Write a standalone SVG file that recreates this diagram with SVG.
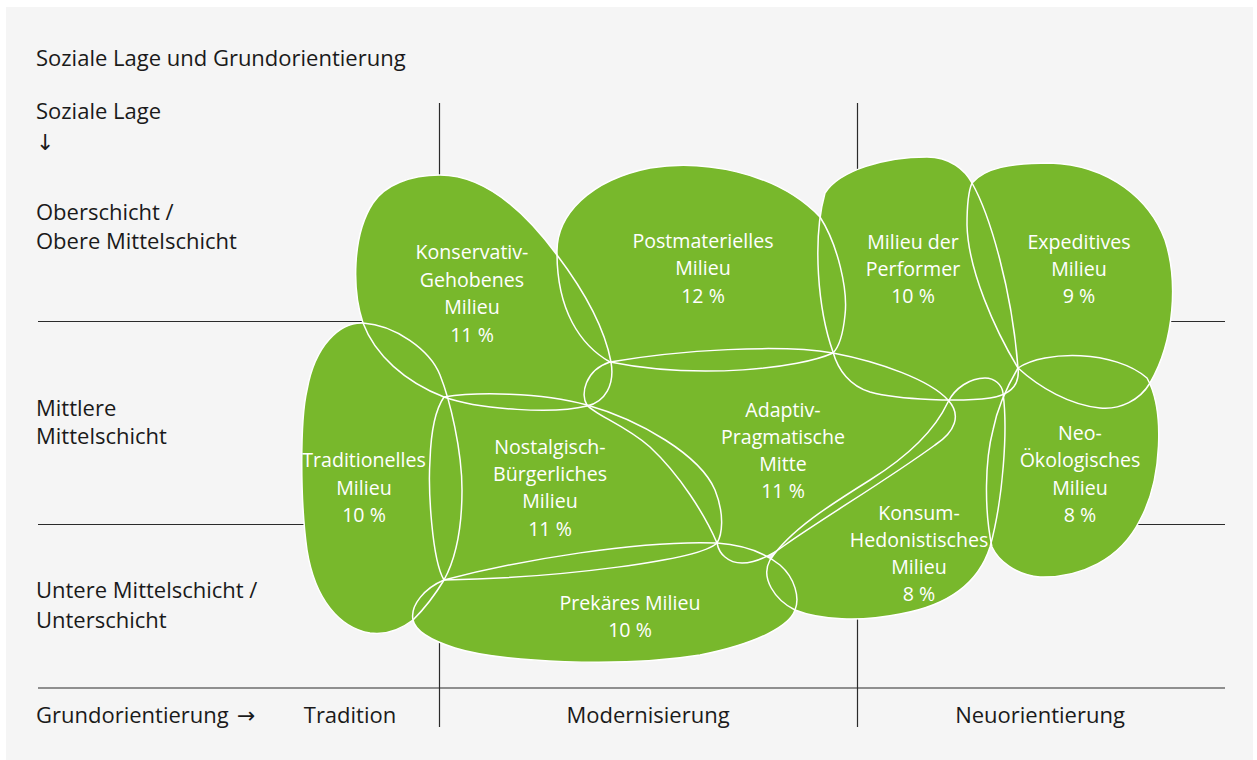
<svg xmlns="http://www.w3.org/2000/svg" xmlns:xlink="http://www.w3.org/1999/xlink" width="1257" height="760" viewBox="0 0 1257 760">
<style>
.bg{fill:#f5f5f5}
.grid line{stroke:#2b2b2b;stroke-width:1.2}
.ax{font-family:"Open Sans","Noto Sans","DejaVu Sans",sans-serif;font-size:22px;fill:#1a1a1a}
.blob{fill:#78b82c;stroke:none}
.lbl{font-family:"Open Sans","Noto Sans","DejaVu Sans",sans-serif;font-size:19.6px;fill:#ffffff;text-anchor:middle}
.edge{fill:none;stroke:#ffffff;stroke-width:1.5}
</style>
<defs>
<path id="p-tra" d="M363,323 C395,325 430,350 440,375 C450,400 462,450 462,490 C462,530 455,560 444,580 C435,595 425,608 413,620 C400,630 385,635 370,633 C340,628 315,600 307,550 C300,500 300,420 307,390 C315,345 340,322 363,323 Z"/>
<path id="p-ket" d="M440,175 C480,175 520,205 557,255 C585,292 605,330 611,362 C615,385 605,402 587,406 C555,414 480,410 444,397 C405,382 375,355 363,323 C352,290 352,235 373,203 C385,185 410,175 440,175 Z"/>
<path id="p-pma" d="M557,253 C556,215 590,180 650,168 C700,160 775,170 820,217 C838,245 848,290 845,315 C843,335 838,348 833,353 C800,368 700,380 610,362 C580,345 557,310 557,253 Z"/>
<path id="p-per" d="M825,193 C840,170 885,157 927,157 C950,157 965,170 972,183 C990,215 1012,290 1018,368 C1020,385 1010,395 990,398 C960,402 900,400 870,392 C850,386 838,370 833,352 C818,310 812,240 825,193 Z"/>
<path id="p-epe" d="M972,183 C985,168 1010,163 1050,163 C1110,165 1150,200 1165,240 C1178,280 1175,340 1150,383 C1140,400 1120,410 1100,408 C1070,405 1040,388 1018,368 C995,330 968,270 967,225 C967,205 968,192 972,183 Z"/>
<path id="p-neo" d="M1018,368 C1045,350 1115,350 1147,378 C1165,410 1162,480 1140,520 C1120,560 1080,578 1040,577 C1015,575 998,560 992,547 C984,510 985,460 993,430 C998,405 1008,385 1018,368 Z"/>
<path id="p-nos" d="M444,397 C475,392 540,392 587,405 C640,420 700,455 715,490 C725,515 722,535 717,543 C700,560 560,578 444,580 C432,560 428,490 430,460 C431,430 435,410 444,397 Z"/>
<path id="p-pra" d="M610,362 C680,350 780,344 833,353 C880,362 930,380 948,400 C962,415 955,432 935,445 C890,478 820,520 785,545 C765,560 740,570 725,557 C720,553 718,548 717,543 C705,515 680,475 650,447 C625,425 595,415 587,405 C580,395 585,370 610,362 Z"/>
<path id="p-pre" d="M444,580 C520,560 640,540 717,543 C745,545 765,553 780,565 C795,578 800,598 795,610 C790,625 760,643 700,655 C620,668 500,662 455,648 C430,640 415,630 413,620 C410,605 425,588 444,580 Z"/>
<path id="p-hed" d="M795,610 C775,600 760,578 770,560 C790,530 830,505 870,480 C910,455 935,430 948,402 C955,388 970,378 985,378 C995,378 1002,385 1003,393 C1008,430 1003,500 990,547 C978,585 945,606 900,614 C860,622 820,620 795,610 Z"/>
</defs>
<rect width="1257" height="760" fill="#ffffff"/>
<rect class="bg" x="6" y="7" width="1247" height="753"/>

<g id="axes" class="grid">
<line x1="439.5" y1="103" x2="439.5" y2="727"/>
<line x1="857.5" y1="103" x2="857.5" y2="727"/>
<line x1="38" y1="321.5" x2="1225" y2="321.5"/>
<line x1="38" y1="524.5" x2="1225" y2="524.5"/>
<line x1="38" y1="688" x2="1225" y2="688"/>
</g>

<g id="axis-labels" class="ax">
<text x="36" y="66">Soziale Lage und Grundorientierung</text>
<text x="36" y="119">Soziale Lage</text>
<text x="36" y="150">↓</text>
<text x="36" y="220">Oberschicht /</text>
<text x="36" y="249">Obere Mittelschicht</text>
<text x="36" y="416">Mittlere</text>
<text x="36" y="444">Mittelschicht</text>
<text x="36" y="598">Untere Mittelschicht /</text>
<text x="36" y="628">Unterschicht</text>
<text x="36" y="723">Grundorientierung<tspan x="237">→</tspan></text>
<text x="350" y="723" text-anchor="middle">Tradition</text>
<text x="648" y="723" text-anchor="middle">Modernisierung</text>
<text x="1040" y="723" text-anchor="middle">Neuorientierung</text>
</g>

<g id="milieu-shapes">
<use id="milieu-traditionell-shape" class="blob" xlink:href="#p-tra"/>
<use id="milieu-konservativ-gehoben-shape" class="blob" xlink:href="#p-ket"/>
<use id="milieu-postmateriell-shape" class="blob" xlink:href="#p-pma"/>
<use id="milieu-performer-shape" class="blob" xlink:href="#p-per"/>
<use id="milieu-expeditiv-shape" class="blob" xlink:href="#p-epe"/>
<use id="milieu-neo-oekologisch-shape" class="blob" xlink:href="#p-neo"/>
<use id="milieu-nostalgisch-buergerlich-shape" class="blob" xlink:href="#p-nos"/>
<use id="milieu-adaptiv-pragmatisch-shape" class="blob" xlink:href="#p-pra"/>
<use id="milieu-prekaer-shape" class="blob" xlink:href="#p-pre"/>
<use id="milieu-konsum-hedonistisch-shape" class="blob" xlink:href="#p-hed"/>
</g>

<g id="boundaries" class="edge">
<use xlink:href="#p-tra"/>
<use xlink:href="#p-ket"/>
<use xlink:href="#p-pma"/>
<use xlink:href="#p-per"/>
<use xlink:href="#p-epe"/>
<use xlink:href="#p-neo"/>
<use xlink:href="#p-nos"/>
<use xlink:href="#p-pra"/>
<use xlink:href="#p-pre"/>
<use xlink:href="#p-hed"/>
</g>

<g id="milieu-traditionell" class="lbl">
<text x="364" y="467">Traditionelles</text>
<text x="364" y="495">Milieu</text>
<text x="364" y="522">10 %</text>
</g>
<g id="milieu-konservativ-gehoben" class="lbl">
<text x="472" y="259">Konservativ-</text>
<text x="472" y="287">Gehobenes</text>
<text x="472" y="314">Milieu</text>
<text x="472" y="342">11 %</text>
</g>
<g id="milieu-postmateriell" class="lbl">
<text x="703" y="248">Postmaterielles</text>
<text x="703" y="275">Milieu</text>
<text x="703" y="303">12 %</text>
</g>
<g id="milieu-performer" class="lbl">
<text x="913" y="249">Milieu der</text>
<text x="913" y="276">Performer</text>
<text x="913" y="303">10 %</text>
</g>
<g id="milieu-expeditiv" class="lbl">
<text x="1079" y="249">Expeditives</text>
<text x="1079" y="276">Milieu</text>
<text x="1079" y="303">9 %</text>
</g>
<g id="milieu-neo-oekologisch" class="lbl">
<text x="1080" y="440">Neo-</text>
<text x="1080" y="467">Ökologisches</text>
<text x="1080" y="495">Milieu</text>
<text x="1080" y="522">8 %</text>
</g>
<g id="milieu-nostalgisch-buergerlich" class="lbl">
<text x="550" y="454">Nostalgisch-</text>
<text x="550" y="481">Bürgerliches</text>
<text x="550" y="508">Milieu</text>
<text x="550" y="536">11 %</text>
</g>
<g id="milieu-adaptiv-pragmatisch" class="lbl">
<text x="783" y="417">Adaptiv-</text>
<text x="783" y="444">Pragmatische</text>
<text x="783" y="471">Mitte</text>
<text x="783" y="498">11 %</text>
</g>
<g id="milieu-prekaer" class="lbl">
<text x="630" y="610">Prekäres Milieu</text>
<text x="630" y="637">10 %</text>
</g>
<g id="milieu-konsum-hedonistisch" class="lbl">
<text x="919" y="520">Konsum-</text>
<text x="919" y="547">Hedonistisches</text>
<text x="919" y="574">Milieu</text>
<text x="919" y="601">8 %</text>
</g>
</svg>
